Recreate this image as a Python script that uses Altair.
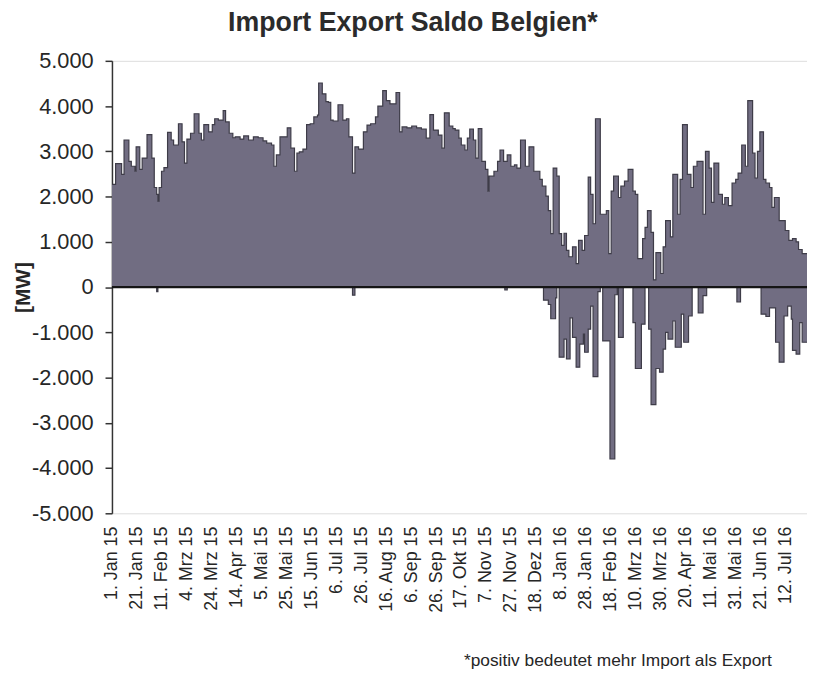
import json
import altair as alt
import pandas as pd

# ---- data (day 0 = 1 Jan 2015, values in MW) ----
pos_day = [0, 3, 8, 10, 14, 16, 19, 20, 23, 25, 29, 33, 35, 37, 38, 39, 41, 43, 46, 49,
           51, 55, 58, 60, 62, 65, 68, 72, 74, 76, 80, 83, 85, 88, 92, 94, 97, 100, 102, 106,
           109, 113, 117, 121, 125, 128, 132, 134, 136, 139, 145, 148, 151, 153, 155, 158, 161, 164, 167, 170,
           171, 174, 177, 179, 181, 183, 187, 191, 194, 196, 199, 201, 204, 208, 211, 214, 218, 220, 224, 227,
           230, 235, 238, 240, 244, 248, 252, 256, 260, 263, 266, 270, 273, 275, 279, 282, 284, 287, 289, 292,
           294, 296, 299, 301, 303, 306, 309, 311, 312, 316, 319, 321, 324, 327, 330, 333, 335, 338, 342, 345,
           349, 354, 356, 359, 361, 363, 365, 368, 370, 372, 374, 376, 378, 381, 384, 386, 389, 391, 394, 396,
           398, 400, 404, 409, 411, 413, 415, 419, 421, 424, 427, 431, 433, 435, 439, 441, 443, 446, 448, 450,
           454, 456, 458, 462, 464, 468, 470, 472, 476, 479, 481, 484, 489, 491, 494, 496, 498, 502, 505, 507,
           510, 513, 516, 518, 521, 524, 526, 530, 532, 534, 536, 539, 541, 544, 546, 548, 552, 557, 560, 563,
           566, 568, 571, 575]
pos_mw = [2270, 2730, 2490, 3250, 2780, 2670, 2560, 3100, 2600, 2850, 3370, 2850, 2200, 2050, 1900, 2200, 2560, 2640, 3420, 3250,
          3140, 3610, 3210, 2740, 3270, 3400, 3830, 3400, 3250, 3590, 3430, 3590, 3720, 3690, 3900, 3650, 3400, 3300, 3320, 3270,
          3340, 3250, 3320, 3300, 3230, 3180, 3140, 2670, 2920, 3320, 3520, 3070, 2560, 2960, 2990, 3050, 3590, 3610, 3760, 3800,
          4510, 4270, 4100, 4080, 3690, 3670, 4030, 3690, 3720, 3320, 2520, 3100, 3050, 3430, 3580, 3610, 3760, 4000, 4340, 4120,
          4050, 4300, 3430, 3540, 3520, 3560, 3520, 3490, 3290, 3810, 3470, 3360, 3070, 3850, 3560, 3500, 3470, 3290, 3140, 3030,
          3290, 3490, 3250, 2850, 3500, 2780, 2600, 2120, 2450, 2560, 2780, 3030, 2780, 2920, 2670, 2700, 2630, 3250, 2670, 3100,
          2560, 2380, 2230, 2010, 1690, 1180, 2630, 2450, 1180, 920, 1190, 810, 670, 890, 520, 1030, 810, 1140, 2430, 2050,
          1400, 3720, 1610, 1690, 740, 2120, 2450, 1980, 2230, 2340, 2600, 2120, 2050, 630, 1070, 1320, 1690, 1210, 160, 760,
          300, 890, 1470, 1110, 2490, 1610, 2380, 3590, 2490, 2200, 2670, 2780, 1610, 3000, 2630, 1870, 2740, 2050, 1830, 1980,
          1800, 2300, 2380, 2520, 3140, 2670, 4120, 2960, 2410, 3000, 3430, 2380, 2300, 2200, 1760, 1980, 1470, 1250, 1030, 1070,
          1000, 830, 740, 740]

neg_day = [0, 37, 38, 199, 201, 325, 327, 357, 361, 363, 367, 368, 370, 374, 376, 379, 381, 384, 387, 390,
           391, 394, 396, 398, 402, 404, 406, 412, 416, 418, 419, 423, 431, 433, 438, 441, 444, 446, 450, 453,
           456, 458, 460, 464, 466, 471, 473, 477, 480, 485, 489, 492, 517, 520, 537, 541, 544, 549, 552, 556,
           559, 562, 563, 566, 569, 571, 575]
neg_mw = [0, -100, 0, -180, 0, -60, 0, -290, -385, -700, -240, 0, -1550, -1150, -1585, -680, -1110, -1770, -1260, -1040,
          -1440, -930, -420, -1980, -100, 0, -1190, -3800, -170, 0, -1110, 0, -785, -1800, -820, 0, -930, -2600, -1800, -1880,
          -1370, -1000, -1150, -750, -1330, -600, -1220, -640, 0, -570, -190, 0, -330, 0, -600, -650, -460, -1220, -1660, -640,
          -420, -710, -1400, -1480, -785, -1220, -1220]

x_labels = ["1. Jan 15", "21. Jan 15", "11. Feb 15", "4. Mrz 15", "24. Mrz 15", "14. Apr 15",
            "5. Mai 15", "25. Mai 15", "15. Jun 15", "6. Jul 15", "26. Jul 15", "16. Aug 15",
            "6. Sep 15", "26. Sep 15", "17. Okt 15", "7. Nov 15", "27. Nov 15", "18. Dez 15",
            "8. Jan 16", "28. Jan 16", "18. Feb 16", "10. Mrz 16", "30. Mrz 16", "20. Apr 16",
            "11. Mai 16", "31. Mai 16", "21. Jun 16", "12. Jul 16"]
label_step_days = 20.625  # one label every 495 hours
y_ticks = [-5000, -4000, -3000, -2000, -1000, 0, 1000, 2000, 3000, 4000, 5000]

title_text = "Import Export Saldo Belgien*"
y_title = "[MW]"
note_text = "*positiv bedeutet mehr Import als Export"

FONT = "Liberation Sans"
FILL = "#716d82"
EDGE = "#3e3c48"
TXT = "#262626"

pos = pd.DataFrame({"day": pos_day, "mw": pos_mw})
neg = pd.DataFrame({"day": neg_day, "mw": neg_mw})
zero = pd.DataFrame({"mw": [0]})
note = pd.DataFrame({"t": [note_text]})

x_enc = alt.X(
    "day:Q",
    scale=alt.Scale(domain=[0, 575], nice=False, zero=False),
    axis=alt.Axis(
        values=[round(label_step_days * k, 4) for k in range(len(x_labels))],
        labelExpr=json.dumps(x_labels) + "[round(datum.value / " + str(label_step_days) + ")]",
        labelAngle=270, labelAlign="right", labelBaseline="middle",
        labelFontSize=18, labelFont=FONT, labelColor=TXT, labelPadding=13,
        labelFlush=False, labelOverlap=False, labelBound=False,
        domain=False, ticks=False, grid=False, title=None,
    ),
)
y_enc = alt.Y(
    "mw:Q",
    scale=alt.Scale(domain=[-5000, 5000], nice=False),
    axis=alt.Axis(
        values=y_ticks,
        labelExpr="(datum.value < 0 ? '-' : '') + replace(format(abs(datum.value), ','), ',', '.')",
        labelFontSize=22, labelFont=FONT, labelColor=TXT, labelPadding=12,
        tickSize=7, tickColor="#333333", domainColor="#333333", domainWidth=1.5, tickWidth=1.5,
        grid=False, title=y_title, titleFont=FONT, titleFontSize=21, titleFontWeight="bold",
        titleColor=TXT, titleAngle=270, titleX=-89, titleY=228.5,
        titleAlign="center", titleBaseline="middle",
    ),
)

pos_area = alt.Chart(pos).mark_area(
    interpolate="step-after", color=FILL, opacity=1, clip=True,
    line={"color": EDGE, "strokeWidth": 1.2},
).encode(x=x_enc, y=y_enc, y2=alt.datum(0))

neg_area = alt.Chart(neg).mark_area(
    interpolate="step-after", color=FILL, opacity=1, clip=True,
    line={"color": EDGE, "strokeWidth": 1.2},
).encode(x=x_enc, y=y_enc, y2=alt.datum(0))

zero_rule = alt.Chart(zero).mark_rule(color="#151515", strokeWidth=2.2).encode(y=y_enc)

note_mark = alt.Chart(note).mark_text(
    font=FONT, fontSize=17.5, color=TXT, align="center", baseline="alphabetic"
).encode(x=alt.value(511), y=alt.value(611), text="t:N")

chart = alt.layer(pos_area, neg_area, zero_rule, note_mark).properties(
    width=702,
    height=457,
    autosize=alt.AutoSizeParams(type="none"),
    padding={"left": 105, "top": 50, "right": 0, "bottom": 165},
    title=alt.TitleParams(
        text=title_text, font=FONT, fontSize=27, fontWeight="bold", color="#2b2b2b",
        anchor="middle", dx=-47, offset=13,
    ),
).configure_view(stroke=None).configure(font=FONT, background="white")

chart.save("out.html", embed_options={"renderer": "svg", "actions": False})
